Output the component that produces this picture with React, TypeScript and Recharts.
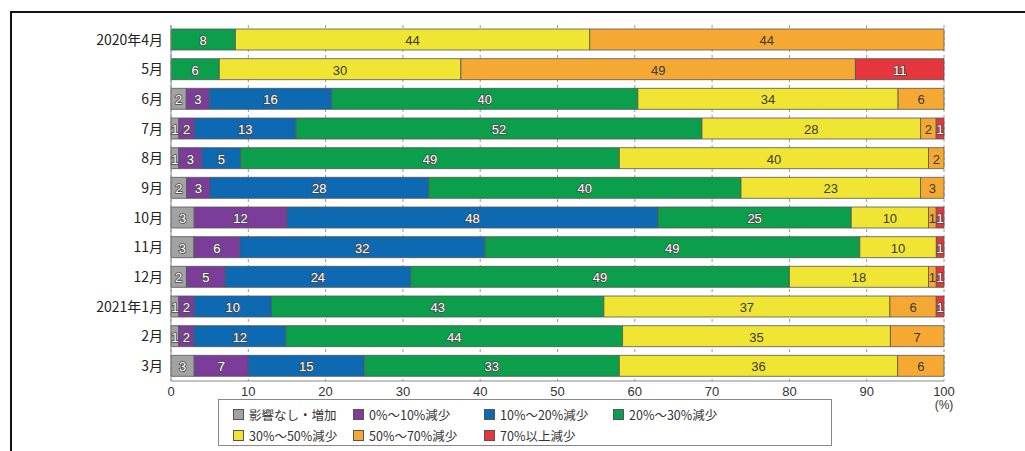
import { BarChart, Bar, XAxis, YAxis, CartesianGrid, LabelList } from "recharts";

// months, top to bottom
const months = [
  "2020年4月", "5月", "6月", "7月", "8月", "9月",
  "10月", "11月", "12月", "2021年1月", "2月", "3月",
];

// share of respondents (%) per sales-decline bracket
const noImpact = [0, 0, 2, 1, 1, 2, 3, 3, 2, 1, 1, 3];
const drop0to10 = [0, 0, 3, 2, 3, 3, 12, 6, 5, 2, 2, 7];
const drop10to20 = [0, 0, 16, 13, 5, 28, 48, 32, 24, 10, 12, 15];
const drop20to30 = [8, 6, 40, 52, 49, 40, 25, 49, 49, 43, 44, 33];
const drop30to50 = [44, 30, 34, 28, 40, 23, 10, 10, 18, 37, 35, 36];
const drop50to70 = [44, 49, 6, 2, 2, 3, 1, 0, 1, 6, 7, 6];
const drop70plus = [0, 11, 0, 1, 0, 0, 1, 1, 1, 1, 0, 0];

const xTicks = [0, 10, 20, 30, 40, 50, 60, 70, 80, 90, 100];

const series = [
  { key: "noImpact", name: "影響なし・増加", values: noImpact, color: "#a2a2a2", light: true },
  { key: "drop0to10", name: "0%〜10%減少", values: drop0to10, color: "#7b3d99", light: true },
  { key: "drop10to20", name: "10%〜20%減少", values: drop10to20, color: "#0c69b2", light: true },
  { key: "drop20to30", name: "20%〜30%減少", values: drop20to30, color: "#0b9f4b", light: true },
  { key: "drop30to50", name: "30%〜50%減少", values: drop30to50, color: "#efe532", light: false },
  { key: "drop50to70", name: "50%〜70%減少", values: drop50to70, color: "#f5a932", light: false },
  { key: "drop70plus", name: "70%以上減少", values: drop70plus, color: "#e6353b", light: true },
];

const rows = months.map((month, i) => {
  const row: Record<string, string | number> = { month };
  series.forEach((s) => {
    row[s.key] = s.values[i];
  });
  return row;
});

const numFont = "'Liberation Sans', Arial, sans-serif";
const jpFont = "'Noto Sans CJK JP', sans-serif";

const segmentLabel = (light: boolean) => (props: any) => {
  const { x, y, width, height, value } = props;
  if (!value) return null;
  return (
    <text
      x={Number(x) + Number(width) / 2}
      y={Number(y) + Number(height) / 2 + 1}
      textAnchor="middle"
      dominantBaseline="central"
      fontFamily={numFont}
      fontSize={13}
      fill={light ? "#ffffff" : "#3a3a3a"}
      stroke={light ? "#4a4a4a" : "none"}
      strokeWidth={light ? 1.6 : 0}
      paintOrder="stroke"
    >
      {value}
    </text>
  );
};

const XTick = (props: any) => {
  const { x, y, payload } = props;
  const pct = Math.round(payload.value * 100);
  return (
    <g>
      <text x={x} y={y + 2} textAnchor="middle" dominantBaseline="central" fontFamily={numFont} fontSize={13} fill="#333">
        {pct}
      </text>
      {pct === 100 && (
        <text x={x} y={y + 16} textAnchor="middle" dominantBaseline="central" fontFamily={numFont} fontSize={12} fill="#333">
          (%)
        </text>
      )}
    </g>
  );
};

const LegendBox = () => {
  const colWidths = [120, 131, 129, 120];
  return (
    <div
      style={{
        position: "absolute",
        left: 218,
        top: 399,
        width: 614,
        height: 47,
        border: "1px solid #888",
        background: "#fff",
        boxSizing: "border-box",
        padding: "4px 0 0 14px",
        fontFamily: jpFont,
        fontSize: 12.5,
        color: "#333",
      }}
    >
      {[series.slice(0, 4), series.slice(4)].map((line, r) => (
        <div key={r} style={{ display: "flex", height: 21, alignItems: "center" }}>
          {line.map((s, c) => (
            <div key={s.key} style={{ width: colWidths[c], display: "flex", alignItems: "center" }}>
              <span
                style={{
                  display: "inline-block",
                  width: 9,
                  height: 9,
                  background: s.color,
                  border: "1px solid #555",
                  marginRight: 5,
                }}
              />
              <span>{s.name}</span>
            </div>
          ))}
        </div>
      ))}
    </div>
  );
};

export default function App() {
  return (
    <div style={{ position: "absolute", left: 0, top: 0, width: 1025, height: 451, background: "#fff" }}>
      <div
        style={{
          position: "absolute",
          left: 10,
          top: 11,
          right: 0,
          bottom: 0,
          borderTop: "2px solid #111",
          borderLeft: "2px solid #111",
        }}
      />
      <BarChart
        width={1025}
        height={451}
        data={rows}
        layout="vertical"
        stackOffset="expand"
        barSize={21}
        margin={{ top: 25, right: 81, bottom: 50, left: 0 }}
        style={{ position: "absolute", left: 0, top: 0 }}
      >
        <CartesianGrid horizontal={false} stroke="#9a9a9a" strokeDasharray="3 3" />
        <XAxis
          type="number"
          domain={[0, 1]}
          ticks={xTicks.map((t) => t / 100)}
          tick={<XTick />}
          tickLine={false}
          axisLine={{ stroke: "#888" }}
          height={20}
          interval={0}
        />
        <YAxis
          type="category"
          dataKey="month"
          width={171}
          tickLine={false}
          axisLine={{ stroke: "#888" }}
          tick={{ fontFamily: jpFont, fontSize: 14, fill: "#222", fontWeight: 400 }}
          interval={0}
        />
        {series.map((s) => (
          <Bar
            key={s.key}
            dataKey={s.key}
            name={s.name}
            stackId="share"
            fill={s.color}
            stroke="#555"
            strokeWidth={0.8}
            isAnimationActive={false}
          >
            <LabelList dataKey={s.key} content={segmentLabel(s.light)} />
          </Bar>
        ))}
      </BarChart>
      <LegendBox />
    </div>
  );
}
